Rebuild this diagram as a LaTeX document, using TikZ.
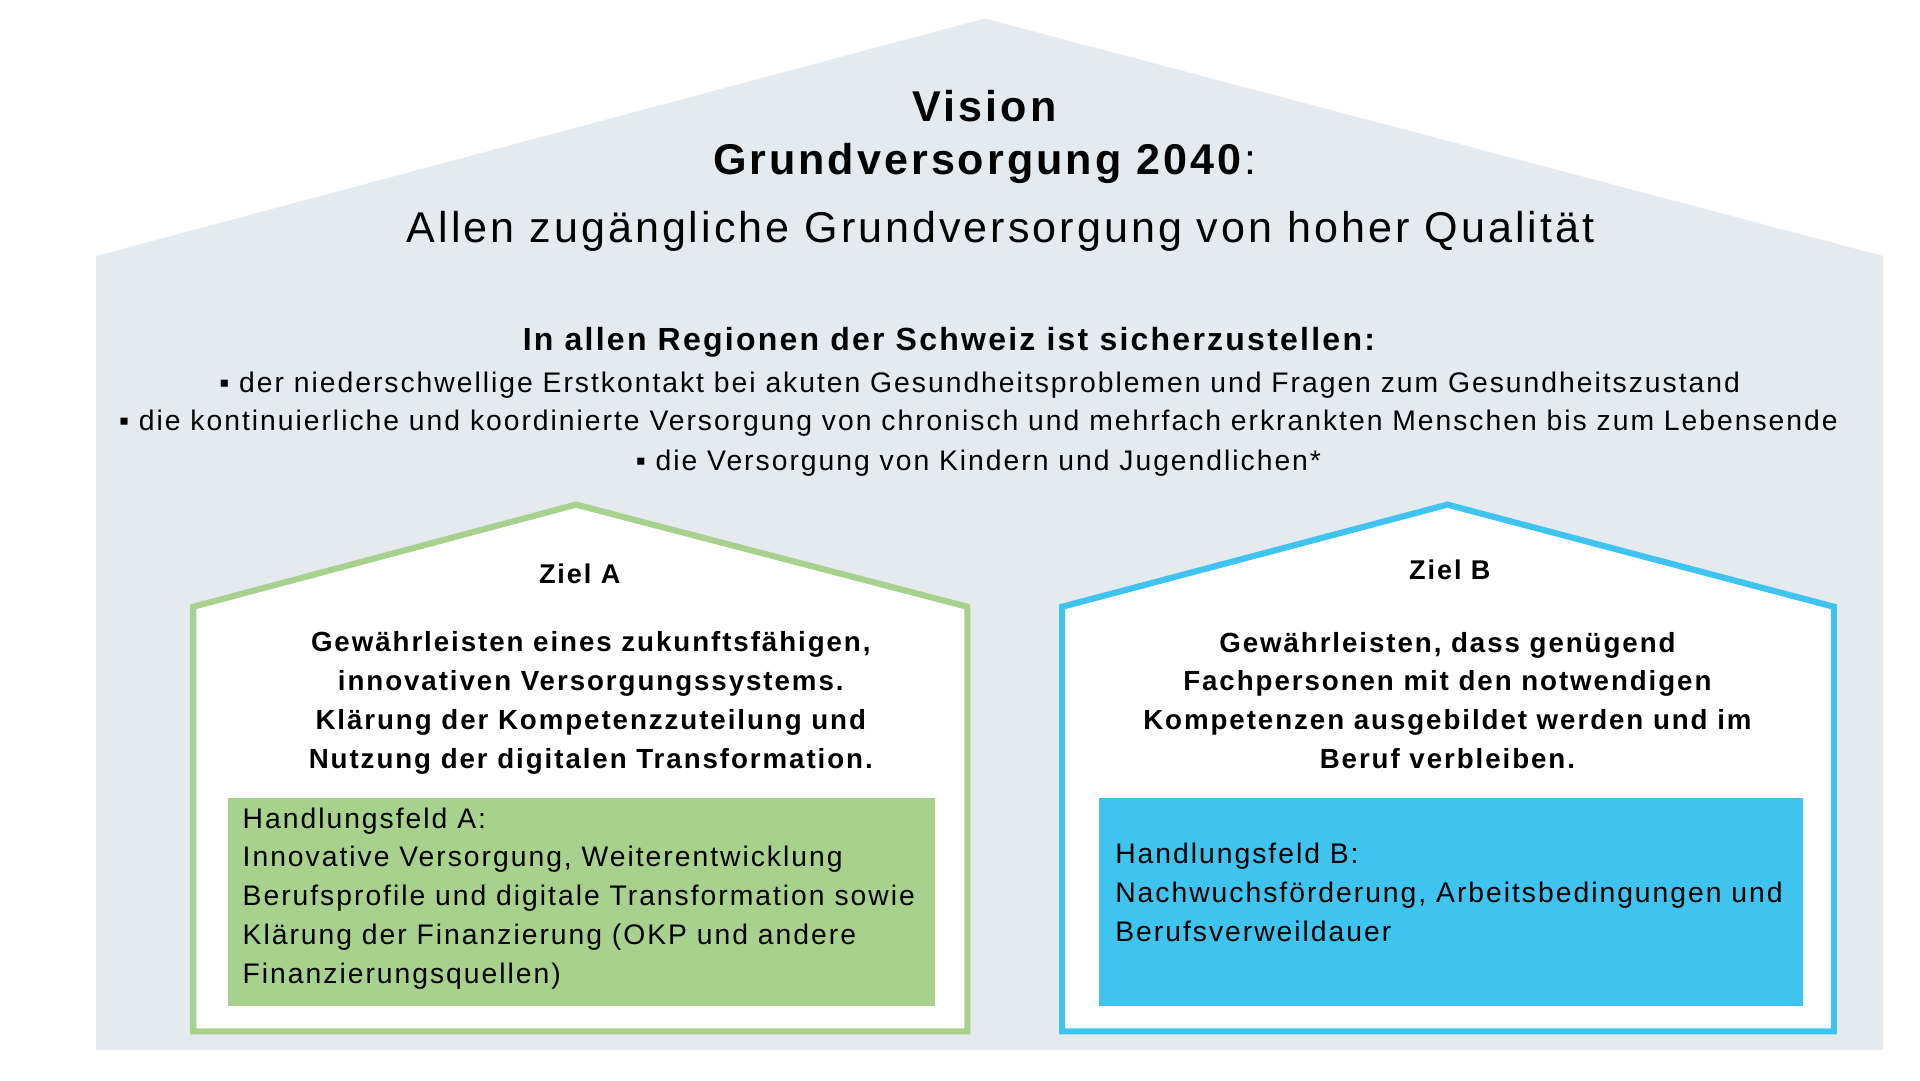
\documentclass[tikz,border=0pt]{standalone}
\usepackage{fontspec}
\setmainfont[LetterSpace=7]{Liberation Sans}
\usetikzlibrary{positioning}
\definecolor{visionbg}{HTML}{E4EAEE}
\definecolor{zielgreen}{HTML}{A9D18E}
\definecolor{zielblue}{HTML}{3FC3EF}
\tikzset{
	txt/.style={inner sep=0pt, align=center, text=black},
	zielhead/.style={txt, font=\bfseries\fontsize{22}{26}\selectfont},
	zieltext/.style={txt, font=\bfseries\fontsize{22.5}{31.5}\selectfont},
	feldtext/.style={inner sep=0pt, align=left, anchor=north west, font=\fontsize{23}{31.5}\selectfont},
	bullet/.style={txt, font=\fontsize{23}{26}\selectfont}
}
\begin{document}
\begin{tikzpicture}[x=1pt, y=-1pt]
\useasboundingbox (0,0) rectangle (1560,878);
% outer house
\fill[visionbg] (78,853) -- (78,208) -- (800,15) -- (1530,208) -- (1530,853) -- cycle;
\node[txt, font=\bfseries\fontsize{35}{40}\selectfont] (vision) at (800,86) {Vision};
\node[txt, font=\fontsize{35}{40}\selectfont] (gv) at (800,133) {\textbf{Grundversorgung 2040}:};
\node[txt, font=\fontsize{35}{40}\selectfont] (allen) at (813,188) {Allen zugängliche Grundversorgung von hoher Qualität};
\node[txt, font=\bfseries\fontsize{26}{30}\selectfont] (regionen) at (771,278) {In allen Regionen der Schweiz ist sicherzustellen:};
\node[bullet] (b1) at (796,313) {▪ der niederschwellige Erstkontakt bei akuten Gesundheitsproblemen und Fragen zum Gesundheitszustand};
\node[bullet] (b2) at (795,344) {▪ die kontinuierliche und koordinierte Versorgung von chronisch und mehrfach erkrankten Menschen bis zum Lebensende};
\node[bullet] (b3) at (795,376) {▪ die Versorgung von Kindern und Jugendlichen*};
% house A
\draw[zielgreen, line width=5pt, fill=white] (157,838) -- (157,493) -- (468,410) -- (786,493) -- (786,838) -- cycle;
\node[zielhead] (zielA) at (471,466) {Ziel A};
\node[zieltext] (textA) at (480,571) {Gewährleisten eines zukunftsfähigen,\\innovativen Versorgungssystems.\\Klärung der Kompetenzzuteilung und\\Nutzung der digitalen Transformation.};
\fill[zielgreen] (185,648) rectangle (760,817);
\node[feldtext] (feldA) at (197,656) {Handlungsfeld A:\\Innovative Versorgung, Weiterentwicklung\\Berufsprofile und digitale Transformation sowie\\Klärung der Finanzierung (OKP und andere\\Finanzierungsquellen)};
% house B
\draw[zielblue, line width=5pt, fill=white] (863,838) -- (863,493) -- (1176,410) -- (1490,493) -- (1490,838) -- cycle;
\node[zielhead] (zielB) at (1178,463) {Ziel B};
\node[zieltext] (textB) at (1176,569) {Gewährleisten, dass genügend\\Fachpersonen mit den notwendigen\\Kompetenzen ausgebildet werden und im\\Beruf verbleiben.};
\fill[zielblue] (893,648) rectangle (1465,817);
\node[feldtext] (feldB) at (906,685) {Handlungsfeld B:\\Nachwuchsförderung, Arbeitsbedingungen und\\Berufsverweildauer};
\end{tikzpicture}
\end{document}
